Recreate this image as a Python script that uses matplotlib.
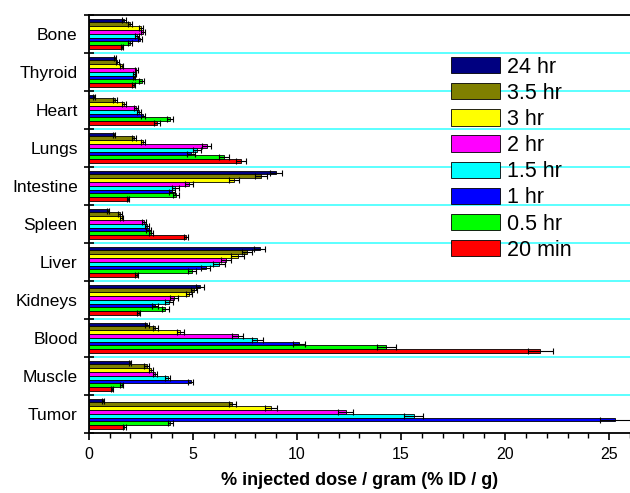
import matplotlib
matplotlib.use('Agg')
import matplotlib.pyplot as plt
import numpy as np

plt.rcParams['font.family'] = ['Liberation Sans', 'DejaVu Sans']

organs = ['Bone', 'Thyroid', 'Heart', 'Lungs', 'Intestine', 'Spleen', 'Liver',
          'Kidneys', 'Blood', 'Muscle', 'Tumor']
times = ['24 hr', '3.5 hr', '3 hr', '2 hr', '1.5 hr', '1 hr', '0.5 hr', '20 min']
colors = ['#000080', '#808000', '#ffff00', '#ff00ff', '#00ffff', '#0000ff', '#00ff00', '#ff0000']

# %ID/g per organ (Bone ... Tumor)
v_24h = [1.7, 1.27, 0.26, 1.2, 9.0, 0.9, 8.2, 5.35, 2.8, 1.98, 0.7]
v_35h = [1.98, 1.37, 1.26, 2.18, 8.27, 1.5, 7.6, 5.05, 3.19, 2.79, 6.9]
v_3h = [2.5, 1.58, 1.7, 2.6, 6.98, 1.58, 7.15, 4.8, 4.4, 3.0, 8.75]
v_2h = [2.6, 2.27, 2.27, 5.66, 4.8, 2.66, 6.58, 4.08, 7.15, 3.19, 12.35]
v_15h = [2.3, 2.2, 2.43, 5.2, 4.16, 2.79, 6.26, 3.84, 8.1, 3.8, 15.6]
v_1h = [2.47, 2.15, 2.6, 4.9, 4.0, 2.87, 5.61, 3.19, 10.1, 4.9, 25.3]
v_05h = [1.98, 2.55, 3.9, 6.5, 4.2, 3.0, 4.97, 3.68, 14.3, 1.58, 3.9]
v_20m = [1.6, 2.15, 3.27, 7.3, 1.9, 4.68, 2.3, 2.39, 21.7, 1.1, 1.7]

e_24h = [0.1, 0.05, 0.05, 0.05, 0.3, 0.05, 0.25, 0.2, 0.1, 0.05, 0.05]
e_35h = [0.1, 0.08, 0.1, 0.1, 0.3, 0.1, 0.25, 0.15, 0.12, 0.12, 0.15]
e_3h = [0.1, 0.08, 0.1, 0.1, 0.25, 0.08, 0.3, 0.15, 0.15, 0.1, 0.27]
e_2h = [0.1, 0.07, 0.1, 0.2, 0.2, 0.1, 0.25, 0.2, 0.25, 0.1, 0.36]
e_15h = [0.1, 0.08, 0.1, 0.2, 0.15, 0.1, 0.3, 0.2, 0.25, 0.12, 0.47]
e_1h = [0.1, 0.05, 0.1, 0.2, 0.15, 0.1, 0.2, 0.15, 0.3, 0.12, 0.75]
e_05h = [0.1, 0.12, 0.15, 0.25, 0.15, 0.1, 0.2, 0.15, 0.45, 0.08, 0.12]
e_20m = [0.05, 0.06, 0.15, 0.25, 0.05, 0.1, 0.08, 0.08, 0.6, 0.05, 0.07]

values = [v_24h, v_35h, v_3h, v_2h, v_15h, v_1h, v_05h, v_20m]
errors = [e_24h, e_35h, e_3h, e_2h, e_15h, e_1h, e_05h, e_20m]

fig = plt.figure(figsize=(6.3, 4.93), dpi=100)
ax = fig.add_axes([0.141, 0.122, 0.859, 0.848])

n = len(organs)
pos = np.arange(n)[::-1]  # Bone on top
h = 0.1

for b in np.arange(n - 1) + 0.5:
    ax.axhline(b, color='#40ffff', lw=1.2, zorder=0)

for k in range(len(times)):
    y = pos + 0.35 - k * h
    ax.barh(y, values[k], height=h, color=colors[k], edgecolor='black',
            linewidth=0.6, label=times[k], zorder=2)
    ax.errorbar(values[k], y, xerr=errors[k], fmt='none', ecolor='black',
                elinewidth=0.8, capsize=2.5, capthick=0.8, zorder=3)

ax.set_xlim(0, 26)
ax.set_ylim(-0.5, n - 0.5)
ax.set_yticks(pos)
ax.set_yticklabels(organs, fontsize=12.5)
ax.set_yticks(np.arange(n + 1) - 0.5, minor=True)
ax.tick_params(axis='y', which='major', length=0, pad=8)
ax.tick_params(axis='y', which='minor', direction='inout', length=7, width=1.2)
ax.set_xticks([0, 5, 10, 15, 20, 25])
ax.set_xticks(np.arange(0, 27, 1), minor=True)
ax.tick_params(axis='x', which='major', direction='out', length=5, width=1.2,
               labelsize=11.5, pad=5.5)
ax.tick_params(axis='x', which='minor', direction='out', length=3.5, width=1)
ax.spines['right'].set_visible(False)
for s in ['top', 'bottom', 'left']:
    ax.spines[s].set_linewidth(1.3)

ax.set_xlabel('% injected dose / gram (% ID / g)', fontsize=13, fontweight='bold',
              labelpad=7)

ax.legend(loc='upper left', bbox_to_anchor=(0.669, 0.9), frameon=False,
          fontsize=15.5, handlelength=2.28, handleheight=0.79, labelspacing=0.24,
          handletextpad=0.33, borderpad=0, borderaxespad=0)

fig.savefig('out.png', dpi=100)
